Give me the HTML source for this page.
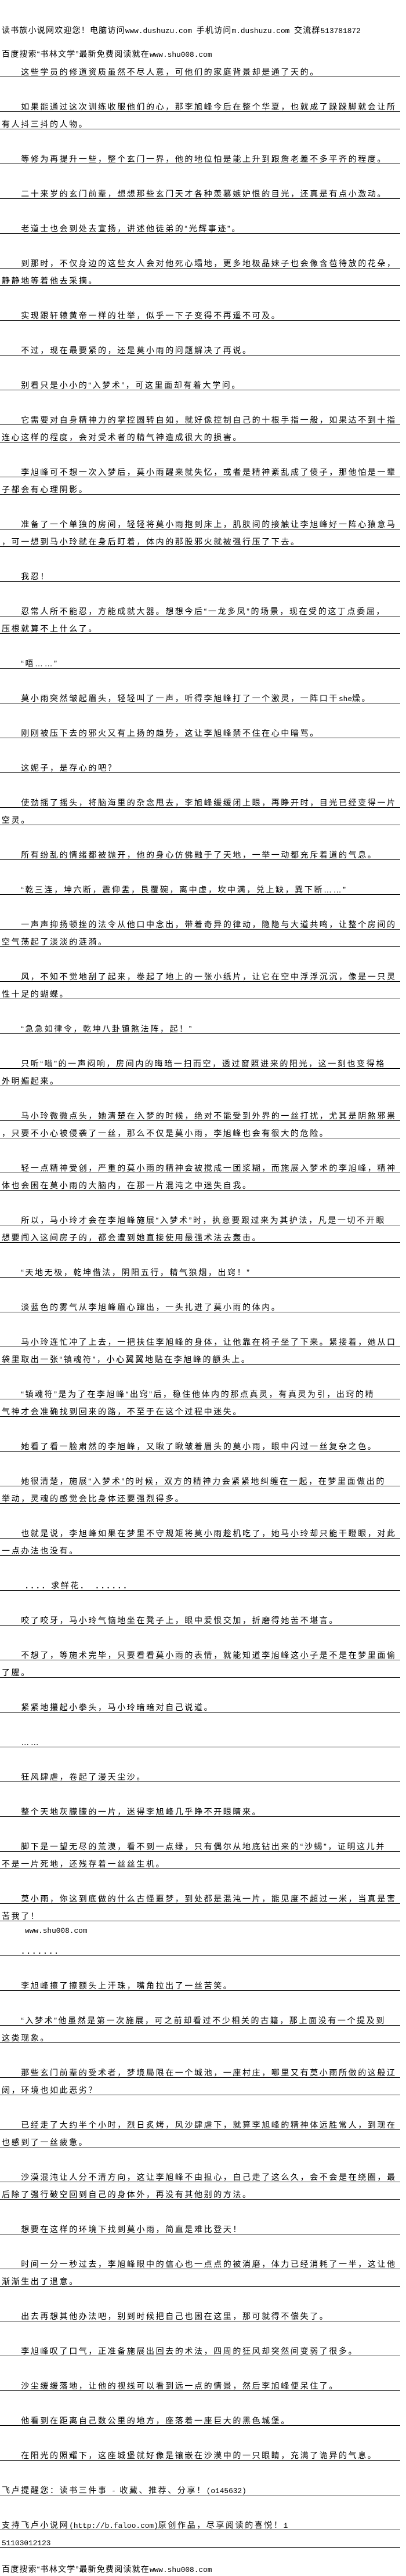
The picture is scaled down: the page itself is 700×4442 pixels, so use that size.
<!DOCTYPE html>
<html><head><meta charset="utf-8">
<style>
html,body{margin:0;padding:0;background:#fff;}
body{width:700px;height:4441px;position:relative;overflow:hidden;color:#000;
font-family:"Liberation Sans","Noto Sans CJK SC",sans-serif;}
.h{position:absolute;left:3px;font-size:14px;letter-spacing:1.2px;line-height:20px;white-space:nowrap;}
.a{font-family:"Liberation Mono","Noto Sans CJK SC",monospace;font-size:12.8px;letter-spacing:0;}
#c{position:absolute;left:0;top:103px;width:690px;}
.l{height:29px;border-bottom:1px solid #000;box-sizing:content-box;padding-left:3px;
font-size:14px;letter-spacing:2.6px;line-height:17px;white-space:nowrap;overflow:visible;}
.l span.t{display:block;padding-top:13px;}
.b{height:30px;}
.n{height:30px;padding-left:3px;font-size:14px;letter-spacing:2.6px;line-height:30px;white-space:nowrap;}
</style></head><body>
<div class="h" style="top:42px">读书族小说网欢迎您！电脑访问<span class="a">www.dushuzu.com </span>手机访问<span class="a">m.dushuzu.com </span>交流群<span class="a">513781872</span></div>
<div class="h" style="top:83px">百度搜索“书林文学”最新免费阅读就在<span class="a">www.shu008.com</span></div>
<div id="c">
<div class="l"><span class="t">　　这些学员的修道资质虽然不尽人意，可他们的家庭背景却是通了天的。</span></div>
<div class="b"></div>
<div class="l"><span class="t">　　如果能通过这次训练收服他们的心，那李旭峰今后在整个华夏，也就成了跺跺脚就会让所</span></div>
<div class="l"><span class="t">有人抖三抖的人物。</span></div>
<div class="b"></div>
<div class="l"><span class="t">　　等修为再提升一些，整个玄门一界，他的地位怕是能上升到跟詹老差不多平齐的程度。</span></div>
<div class="b"></div>
<div class="l"><span class="t">　　二十来岁的玄门前辈，想想那些玄门天才各种羡慕嫉妒恨的目光，还真是有点小激动。</span></div>
<div class="b"></div>
<div class="l"><span class="t">　　老道士也会到处去宣扬，讲述他徒弟的“光辉事迹”。</span></div>
<div class="b"></div>
<div class="l"><span class="t">　　到那时，不仅身边的这些女人会对他死心塌地，更多地极品妹子也会像含苞待放的花朵，</span></div>
<div class="l"><span class="t">静静地等着他去采摘。</span></div>
<div class="b"></div>
<div class="l"><span class="t">　　实现跟轩辕黄帝一样的壮举，似乎一下子变得不再遥不可及。</span></div>
<div class="b"></div>
<div class="l"><span class="t">　　不过，现在最要紧的，还是莫小雨的问题解决了再说。</span></div>
<div class="b"></div>
<div class="l"><span class="t">　　别看只是小小的“入梦术”，可这里面却有着大学问。</span></div>
<div class="b"></div>
<div class="l"><span class="t">　　它需要对自身精神力的掌控圆转自如，就好像控制自己的十根手指一般，如果达不到十指</span></div>
<div class="l"><span class="t">连心这样的程度，会对受术者的精气神造成很大的损害。</span></div>
<div class="b"></div>
<div class="l"><span class="t">　　李旭峰可不想一次入梦后，莫小雨醒来就失忆，或者是精神紊乱成了傻子，那他怕是一辈</span></div>
<div class="l"><span class="t">子都会有心理阴影。</span></div>
<div class="b"></div>
<div class="l"><span class="t">　　准备了一个单独的房间，轻轻将莫小雨抱到床上，肌肤间的接触让李旭峰好一阵心猿意马</span></div>
<div class="l"><span class="t">，可一想到马小玲就在身后盯着，体内的那股邪火就被强行压了下去。</span></div>
<div class="b"></div>
<div class="l"><span class="t">　　我忍！</span></div>
<div class="b"></div>
<div class="l"><span class="t">　　忍常人所不能忍，方能成就大器。想想今后“一龙多凤”的场景，现在受的这丁点委屈，</span></div>
<div class="l"><span class="t">压根就算不上什么了。</span></div>
<div class="b"></div>
<div class="l"><span class="t">　　“唔……”</span></div>
<div class="b"></div>
<div class="l"><span class="t">　　莫小雨突然皱起眉头，轻轻叫了一声，听得李旭峰打了一个激灵，一阵口干<span class="a">she</span>燥。</span></div>
<div class="b"></div>
<div class="l"><span class="t">　　刚刚被压下去的邪火又有上扬的趋势，这让李旭峰禁不住在心中暗骂。</span></div>
<div class="b"></div>
<div class="l"><span class="t">　　这妮子，是存心的吧？</span></div>
<div class="b"></div>
<div class="l"><span class="t">　　使劲摇了摇头，将脑海里的杂念甩去，李旭峰缓缓闭上眼，再睁开时，目光已经变得一片</span></div>
<div class="l"><span class="t">空灵。</span></div>
<div class="b"></div>
<div class="l"><span class="t">　　所有纷乱的情绪都被抛开，他的身心仿佛融于了天地，一举一动都充斥着道的气息。</span></div>
<div class="b"></div>
<div class="l"><span class="t">　　“乾三连，坤六断，震仰盂，艮覆碗，离中虚，坎中满，兑上缺，巽下断……”</span></div>
<div class="b"></div>
<div class="l"><span class="t">　　一声声抑扬顿挫的法令从他口中念出，带着奇异的律动，隐隐与大道共鸣，让整个房间的</span></div>
<div class="l"><span class="t">空气荡起了淡淡的涟漪。</span></div>
<div class="b"></div>
<div class="l"><span class="t">　　风，不知不觉地刮了起来，卷起了地上的一张小纸片，让它在空中浮浮沉沉，像是一只灵</span></div>
<div class="l"><span class="t">性十足的蝴蝶。</span></div>
<div class="b"></div>
<div class="l"><span class="t">　　“急急如律令，乾坤八卦镇煞法阵，起！”</span></div>
<div class="b"></div>
<div class="l"><span class="t">　　只听“嗡”的一声闷响，房间内的晦暗一扫而空，透过窗照进来的阳光，这一刻也变得格</span></div>
<div class="l"><span class="t">外明媚起来。</span></div>
<div class="b"></div>
<div class="l"><span class="t">　　马小玲微微点头，她清楚在入梦的时候，绝对不能受到外界的一丝打扰，尤其是阴煞邪祟</span></div>
<div class="l"><span class="t">，只要不小心被侵袭了一丝，那么不仅是莫小雨，李旭峰也会有很大的危险。</span></div>
<div class="b"></div>
<div class="l"><span class="t">　　轻一点精神受创，严重的莫小雨的精神会被搅成一团浆糊，而施展入梦术的李旭峰，精神</span></div>
<div class="l"><span class="t">体也会困在莫小雨的大脑内，在那一片混沌之中迷失自我。</span></div>
<div class="b"></div>
<div class="l"><span class="t">　　所以，马小玲才会在李旭峰施展“入梦术”时，执意要跟过来为其护法，凡是一切不开眼</span></div>
<div class="l"><span class="t">想要闯入这间房子的，都会遭到她直接使用最强术法去轰击。</span></div>
<div class="b"></div>
<div class="l"><span class="t">　　“天地无极，乾坤借法，阴阳五行，精气狼烟，出窍！”</span></div>
<div class="b"></div>
<div class="l"><span class="t">　　淡蓝色的雾气从李旭峰眉心蹿出，一头扎进了莫小雨的体内。</span></div>
<div class="b"></div>
<div class="l"><span class="t">　　马小玲连忙冲了上去，一把扶住李旭峰的身体，让他靠在椅子坐了下来。紧接着，她从口</span></div>
<div class="l"><span class="t">袋里取出一张“镇魂符”，小心翼翼地贴在李旭峰的额头上。</span></div>
<div class="b"></div>
<div class="l"><span class="t">　　“镇魂符”是为了在李旭峰“出窍”后，稳住他体内的那点真灵，有真灵为引，出窍的精</span></div>
<div class="l"><span class="t">气神才会准确找到回来的路，不至于在这个过程中迷失。</span></div>
<div class="b"></div>
<div class="l"><span class="t">　　她看了看一脸肃然的李旭峰，又瞅了瞅皱着眉头的莫小雨，眼中闪过一丝复杂之色。</span></div>
<div class="b"></div>
<div class="l"><span class="t">　　她很清楚，施展“入梦术”的时候，双方的精神力会紧紧地纠缠在一起，在梦里面做出的</span></div>
<div class="l"><span class="t">举动，灵魂的感觉会比身体还要强烈得多。</span></div>
<div class="b"></div>
<div class="l"><span class="t">　　也就是说，李旭峰如果在梦里不守规矩将莫小雨趁机吃了，她马小玲却只能干瞪眼，对此</span></div>
<div class="l"><span class="t">一点办法也没有。</span></div>
<div class="b"></div>
<div class="l"><span class="t">　　 ．．．．求鲜花．　．．．．．．</span></div>
<div class="b"></div>
<div class="l"><span class="t">　　咬了咬牙，马小玲气恼地坐在凳子上，眼中爱恨交加，折磨得她苦不堪言。</span></div>
<div class="b"></div>
<div class="l"><span class="t">　　不想了，等施术完毕，只要看看莫小雨的表情，就能知道李旭峰这小子是不是在梦里面偷</span></div>
<div class="l"><span class="t">了腥。</span></div>
<div class="b"></div>
<div class="l"><span class="t">　　紧紧地攥起小拳头，马小玲暗暗对自己说道。</span></div>
<div class="b"></div>
<div class="l"><span class="t">　　……</span></div>
<div class="b"></div>
<div class="l"><span class="t">　　狂风肆虐，卷起了漫天尘沙。</span></div>
<div class="b"></div>
<div class="l"><span class="t">　　整个天地灰朦朦的一片，迷得李旭峰几乎睁不开眼睛来。</span></div>
<div class="b"></div>
<div class="l"><span class="t">　　脚下是一望无尽的荒漠，看不到一点绿，只有偶尔从地底钻出来的“沙蝎”，证明这儿并</span></div>
<div class="l"><span class="t">不是一片死地，还残存着一丝丝生机。</span></div>
<div class="b"></div>
<div class="l"><span class="t">　　莫小雨，你这到底做的什么古怪噩梦，到处都是混沌一片，能见度不超过一米，当真是害</span></div>
<div class="l"><span class="t">苦我了！</span></div>
<div class="n"><span style="padding-left:40px" class="a">www.shu008.com</span></div>
<div class="l"><span class="t">　　．．．．．．．</span></div>
<div class="b"></div>
<div class="l"><span class="t">　　李旭峰擦了擦额头上汗珠，嘴角拉出了一丝苦笑。</span></div>
<div class="b"></div>
<div class="l"><span class="t">　　“入梦术”他虽然是第一次施展，可之前却看过不少相关的古籍，那上面没有一个提及到</span></div>
<div class="l"><span class="t">这类现象。</span></div>
<div class="b"></div>
<div class="l"><span class="t">　　那些玄门前辈的受术者，梦境局限在一个城池，一座村庄，哪里又有莫小雨所做的这般辽</span></div>
<div class="l"><span class="t">阔，环境也如此恶劣？</span></div>
<div class="b"></div>
<div class="l"><span class="t">　　已经走了大约半个小时，烈日炙烤，风沙肆虐下，就算李旭峰的精神体远胜常人，到现在</span></div>
<div class="l"><span class="t">也感到了一丝疲惫。</span></div>
<div class="b"></div>
<div class="l"><span class="t">　　沙漠混沌让人分不清方向，这让李旭峰不由担心，自己走了这么久，会不会是在绕圈，最</span></div>
<div class="l"><span class="t">后除了强行破空回到自己的身体外，再没有其他别的方法。</span></div>
<div class="b"></div>
<div class="l"><span class="t">　　想要在这样的环境下找到莫小雨，简直是难比登天！</span></div>
<div class="b"></div>
<div class="l"><span class="t">　　时间一分一秒过去，李旭峰眼中的信心也一点点的被消磨，体力已经消耗了一半，这让他</span></div>
<div class="l"><span class="t">渐渐生出了退意。</span></div>
<div class="b"></div>
<div class="l"><span class="t">　　出去再想其他办法吧，别到时候把自己也困在这里，那可就得不偿失了。</span></div>
<div class="b"></div>
<div class="l"><span class="t">　　李旭峰叹了口气，正准备施展出回去的术法，四周的狂风却突然间变弱了很多。</span></div>
<div class="b"></div>
<div class="l"><span class="t">　　沙尘缓缓落地，让他的视线可以看到远一点的情景，然后李旭峰便呆住了。</span></div>
<div class="b"></div>
<div class="l"><span class="t">　　他看到在距离自己数公里的地方，座落着一座巨大的黑色城堡。</span></div>
<div class="b"></div>
<div class="l"><span class="t">　　在阳光的照耀下，这座城堡就好像是镶嵌在沙漠中的一只眼睛，充满了诡异的气息。</span></div>
<div class="b"></div>
<div class="l"><span class="t">飞卢提醒您：读书三件事 <span class="a">-</span> 收藏、推荐、分享！<span class="a">(o145632)</span></span></div>
<div class="b"></div>
<div class="l"><span class="t">支持飞卢小说网<span class="a">(http://b.faloo.com)</span>原创作品，尽享阅读的喜悦！<span class="a">1</span></span></div>
<div class="l"><span class="t"><span class="a">51103012123</span></span></div>
</div>
<div class="h" style="top:4420px">百度搜索“书林文学”最新免费阅读就在<span class="a">www.shu008.com</span></div>
</body></html>
